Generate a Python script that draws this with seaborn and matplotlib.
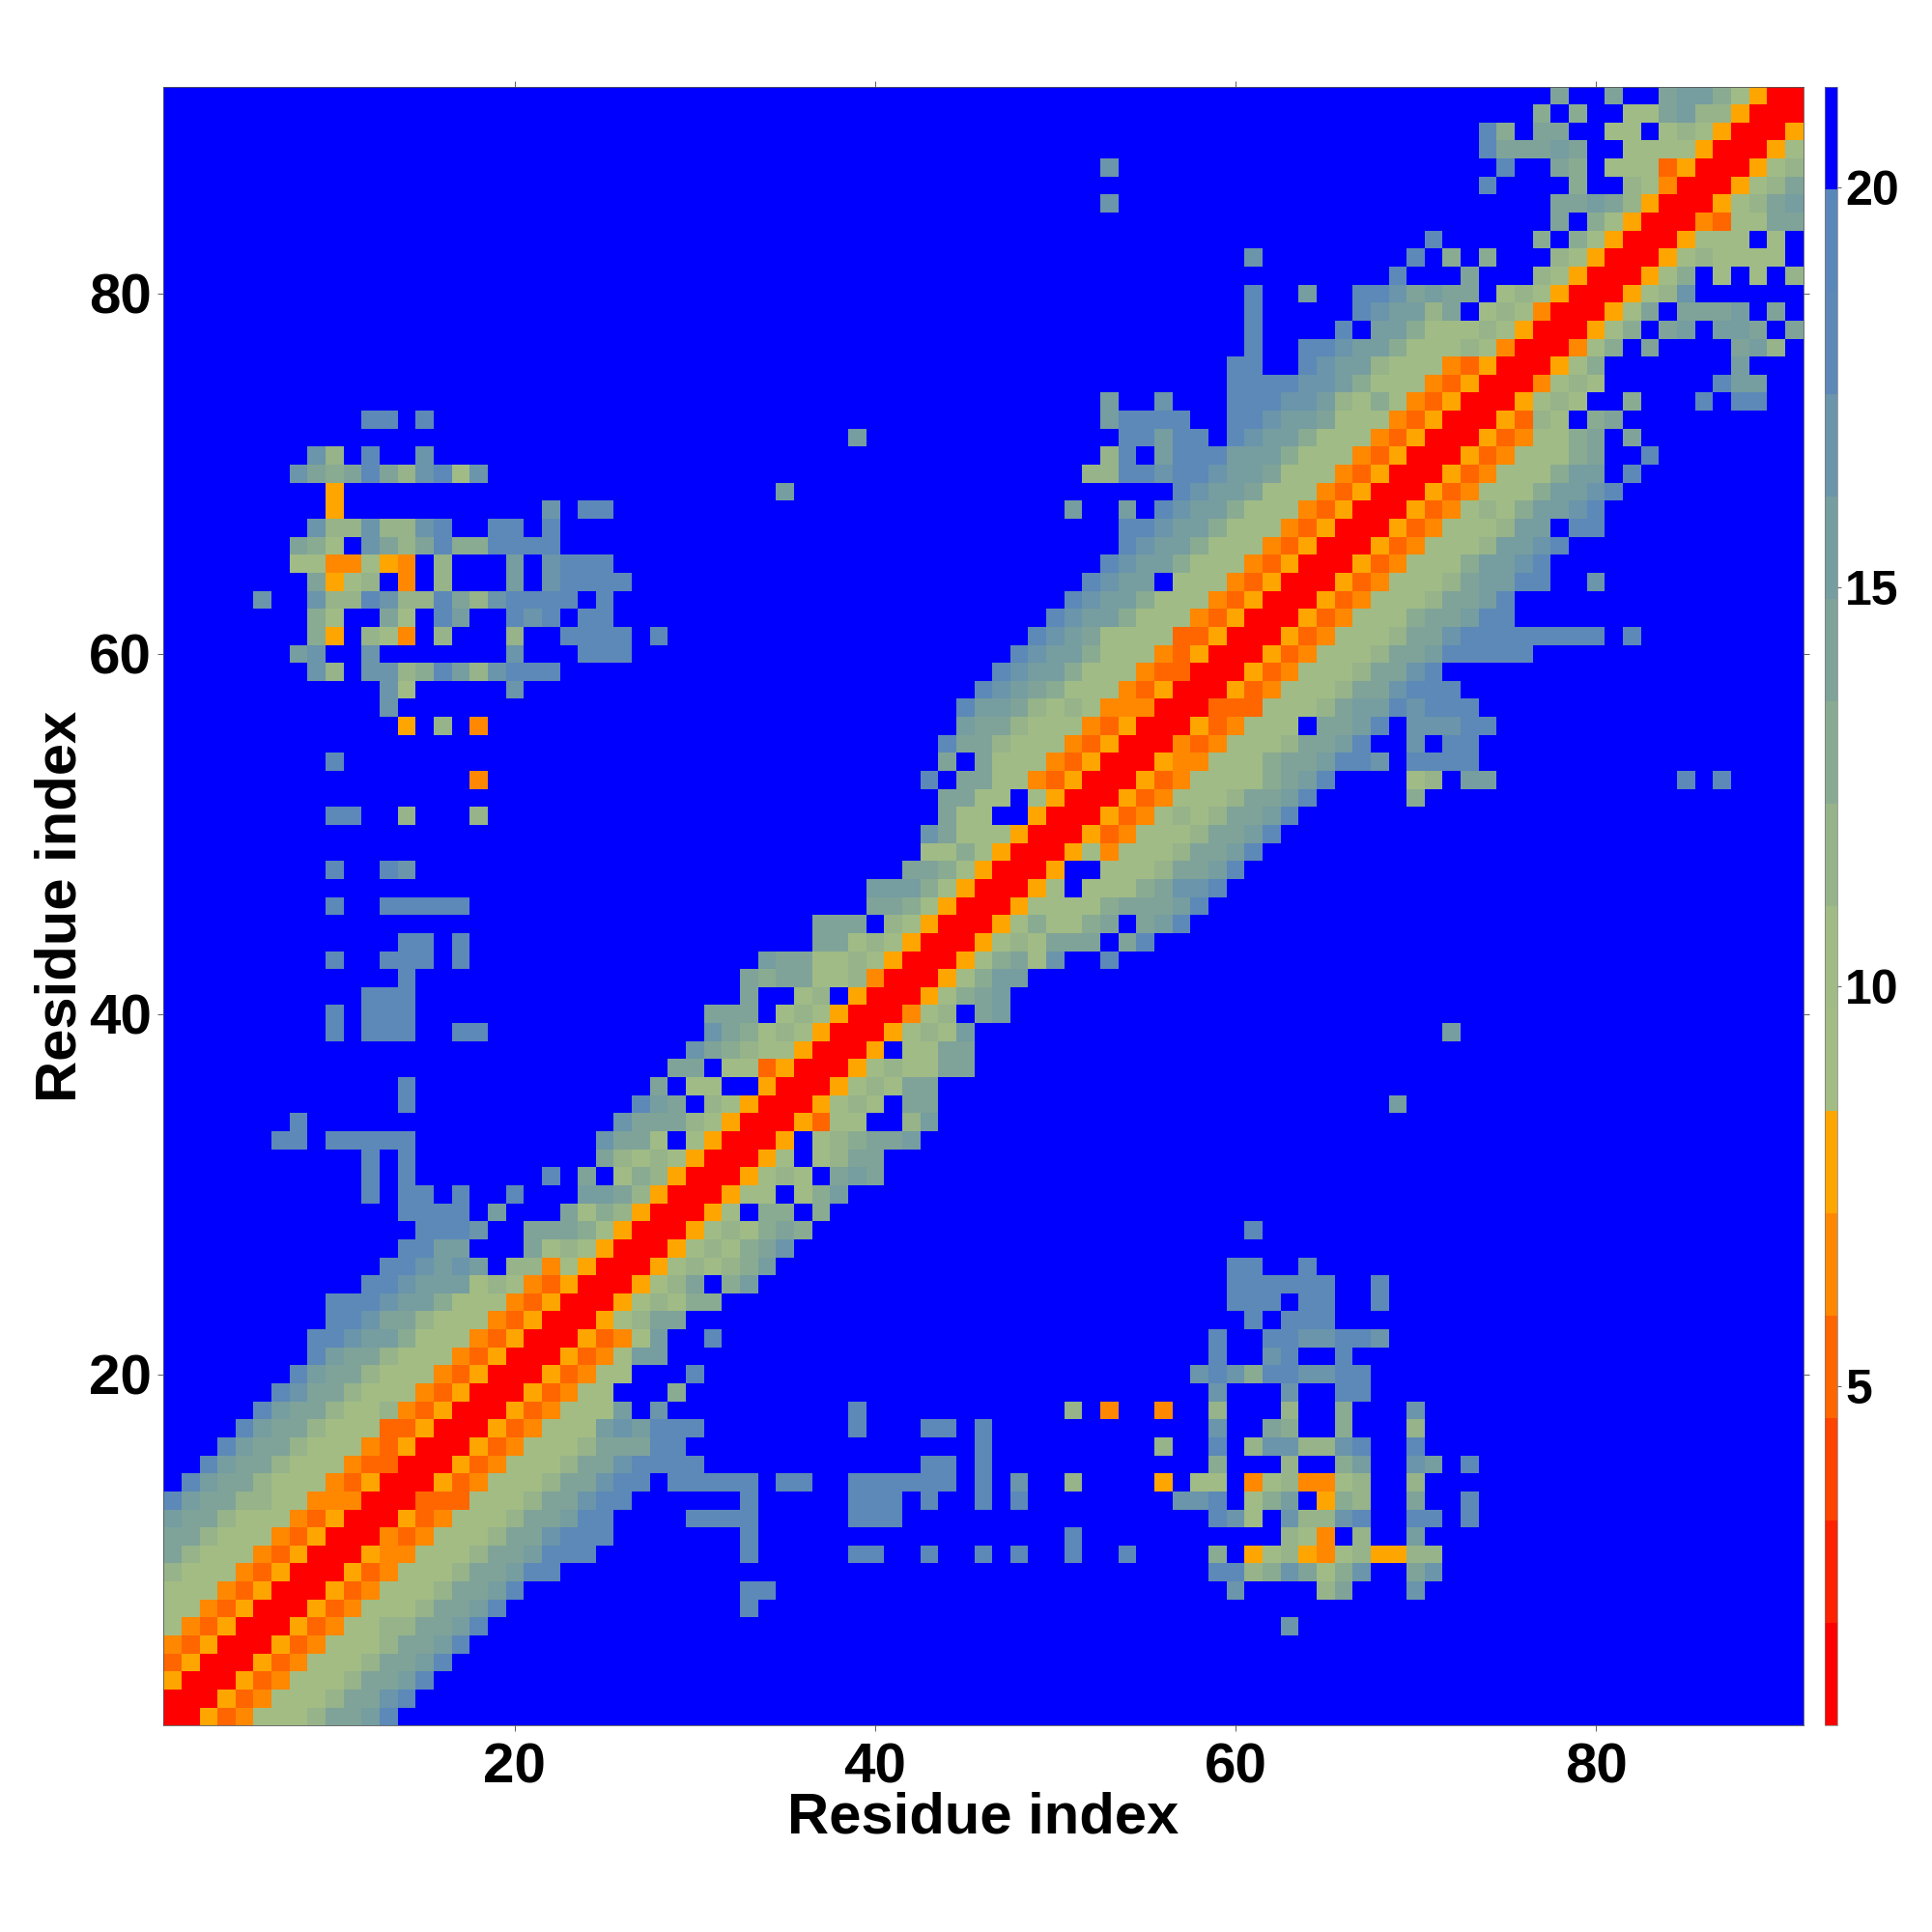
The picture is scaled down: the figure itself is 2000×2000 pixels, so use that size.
# -*- coding: utf-8 -*-
import numpy as np
import pandas as pd
import matplotlib
matplotlib.use("Agg")
import matplotlib.pyplot as plt
from matplotlib.colors import ListedColormap
import seaborn as sns

# each row of the map is written "first column:levels", levels are read off the
# picture as colour bands of the bar (0 = reddest, e = steel blue, . = blue)
rows_01_30 = [
    "1:005346668aabd",
    "1:0005346668aacd",
    "1:50005346668aabd",
    "1:350005346668aabd",
    "1:4350005346668aabd",
    "1:64350005346688aabd 63:c",
    "1:664350005346668aabd 33:d",
    "1:6664350005346668aabd 33:dd 60:c 65:8a 70:c",
    "1:86664350005346668aabdd 59:dd89ca79c..ac",
    "1:a86664350005446668aabddd 33:d 39:dd 43:d 46:d 48:d 51:d 54:d 59:9 61:578547855 70:88",
    "1:aa86664350004346668aacddd 33:d 51:d 63:87 65:4 67:8 70:b",
    "1:baa86664350005346668aabdd 30:dddd 39:ddd 59:dc7.c88cd..dd.d",
    "1:dbaa88664440003336668aacdd 33:d 39:ddd 43:d 46:d 48:d 57:ccd.79b.598..a..d",
    "2:dbaa86664350005346668aacdd.ddddd 35:dd 39:dddddd 46:d 48:c 51:8 56:5 58:77 61:4784478..8",
    "3:dbaa86664330005346668aacdddd 43:dd 46:d 59:9 63:8 66:9b 70:cb 73:d",
    "4:dbaa86664350005346668aaadd 46:d 56:8 59:d 61:8cc88cd 70:d",
    "5:dbaa8666335000534666bcbddd 39:d 43:dd 46:d 59:c 62:a9 66:9 70:8",
    "6:dbaa8668435000534666b.c 39:d 51:8 53:4 56:4 59:8 63:8 66:9 70:c",
    "7:dcaa866643500053466 29:9 59:c 63:c 66:dd",
    "8:dbaa866643500053466 30:d 58:cdc9ddccdd",
    "9:dbaa86664350005346bb 59:d 62:cd 66:d",
    "9:ddcbb96664350005346b..d 59:d 62:ddccddc",
    "10:ddcaa8666435000568aa 61:d.ddd",
    "10:dddcbb9666435000568799 60:ddd.dd 68:d",
    "12:ddcbbb687435000568a.9b 60:dddddd 68:d",
    "13:ddcbcb.88465000578789b 60:dd 64:d",
    "14:ddbb...a787500057879ac",
    "15:dddc..aaa97500057879a9 61:d",
    "14:dddd.b...a798500057.99.9",
    "12:d.dd.d..d...bba85000577.79b",
]
rows_31_60 = [
    "12:d.d 22:d.a.79850005787.aba",
    "12:d.d 25:a8787500057.78aa",
    "7:dd.ddddd 25:caa7.750005.789aab",
    "8:d 26:caaa8750005377..8b",
    "14:d 27:dba.8750005787.aa 69:b",
    "14:d 28:a.77..50005787aa",
    "29:aa.773500057877aa",
    "30:ca987750005.77aa",
    "10:d.ddd..dd 31:ca978750005787b 72:b",
    "10:d.ddd 31:aaa.7875000478.ab",
    "12:ddd 33:a..78.5000579ab",
    "14:d 33:a9aa7784000579bb",
    "10:d..ddd.d 34:baa77875000579a7c..d",
    "14:dd.d 37:aa78750005787aaa.ad",
    "37:aaa.875000579779a.abd",
    "10:d..ddddd 40:aa975000577779aaabd",
    "40:bbb97500057.7779accd",
    "10:d..dc 42:aa9750005..7778aabd",
    "43:779750005747778aabd",
    "43:ca77750005347778aabd",
    "10:dd..8...8 44:a77..50005347878aabd",
    "44:aa77.750005347778aabd 70:9",
    "18:4 43:d.aa7743500053477779abd 70:78.bb 85:d.d",
    "10:d 44:a.a7774350005447779aabddc.dddd",
    "44:daa87774350004347778aabd..c.dd",
    "14:5.8.4 45:baa8777435000534777.aabd.cccdd",
    "13:c 45:dbba87874440003337778abbdcddd",
    "13:c7 20:c 46:dcba97774350005347778aacddd",
    "9:c8.cc89db8cddd 47:dcbb97774330005347778aacd",
    "8:bc..c 20:c 24:ddd 48:dcbb97774350005347778aabddddd",
]
rows_61_91 = [
    "9:95.874.8...8..dddd.d 49:dcba77773350005347778aacdddddddd.d",
    "9:97..a7.db..dcd.dd 50:dcbb97774350005347779aabdd",
    "6:c..c88dc88da8cdddd.d 51:dcbb97774350005347778aabd",
    "9:a578.4.8...b.cdddd 52:dcbb.7774350005347778abbdd..c",
    "8:7744754.8...b.cddd 53:dcbb97774350005347779bbcd",
    "8:a97.ca8ad99dddd 54:dcbb97774350005347778bbcd",
    "9:c88c88cd..dd.d 54:ddcbb97774350005347778bb.dd",
    "10:5 22:c.dd 51:b..b.dcbb97774350005347879bbcd",
    "10:5 35:b 57:dcbba7774350005347779bbcd",
    "8:ca9ada8cd7c 52:88ddcddcbba7774350005347779bb.d",
    "9:c8.d..c 53:8d.bdddbbb97774350005347779a..d",
    "39:b 54:ddbdd.dcbb9777435000534779a.a",
    "12:dd.d 53:bdddd..ddcbba7774350005387.9a",
    "53:b..c 60:dddccb87974350005787 82:9 86:d.dd",
    "60:ddddccb97774350004787 87:dbb",
    "60:dd..dcbb87774350005 79 88:b".replace("5 79", "579"),
    "61:d..ddcbb9777874000479.a 88:ab8",
    "61:d 66:d.bb9777875000579.ab.bba.a",
    "61:d 67:dcbb8a.787400057a.aaab.a",
    "61:d..b..ddcabaa.7875000578c",
    "69:d 73:a 77:875000579.7.7.8",
    "61:c 70:d.9.9 78:8750005787777",
    "71:d 77:9.9750005777.7",
    "78:a.9750004377aa",
    "53:c 78:aaba85000578ab",
    "74:d 79:9 82:874000578a",
    "53:c 75:d 78:a9.77735000578",
    "74:daaaba..7777500057",
    "74:d9.aa..77.78750005",
    "77:9.9..77ab885000",
    "78:a..a..abb97500",
]
residues = list(range(1, 92))
axis_ticks = [20, 40, 60, 80]
bar_ticks = [5, 10, 15, 20]
band_colors = ["#ff0000", "#ff2200", "#ff4400", "#ff6600", "#ff8800", "#ffa500",
               "#a2bc84", "#a0bb85", "#96b38a", "#89ab92", "#7fa399", "#769da0",
               "#6a95aa", "#5c89b8", "#5a87ba", "#0000ff"]
vmin, vmax = 0.76, 21.26


def read_rows(rows):
    step = (vmax - vmin) / len(band_colors)
    out = np.full((len(rows), len(residues)), vmax - step / 2)
    for i, row in enumerate(rows):
        for part in row.split():
            start, levels = part.split(":")
            for j, ch in enumerate(levels):
                if ch != ".":
                    out[i, int(start) - 1 + j] = vmin + step * (int(ch, 16) + .5)
    return out


dist = read_rows(rows_01_30 + rows_31_60 + rows_61_91)
df = pd.DataFrame(dist, index=residues, columns=residues)

sns.set_theme(style="ticks", rc={"text.color": "black", "axes.labelcolor": "black",
                                 "xtick.color": "black", "ytick.color": "black"})
plt.rcParams['font.family'] = ['Liberation Sans', 'DejaVu Sans']
plt.rcParams['font.weight'] = 'bold'

fig = plt.figure(figsize=(20, 20), dpi=100, facecolor='white')
ax = fig.add_axes([169.2/2000, 213.7/2000, 1697.3/2000, 1696.8/2000])
cax = fig.add_axes([1889/2000, 213.7/2000, 13/2000, 1696.8/2000])

sns.heatmap(df, ax=ax, cbar_ax=cax, cmap=ListedColormap(band_colors),
            vmin=vmin, vmax=vmax, square=False, linewidths=0,
            xticklabels=False, yticklabels=False)
ax.set_xlim(0, 91)
ax.set_ylim(0, 91)

# cell i is centred on i - 0.5 in heatmap coordinates
ax.set_xticks([t - .5 for t in axis_ticks])
ax.set_yticks([t - .5 for t in axis_ticks])
ax.set_xticklabels(axis_ticks, fontsize=42, fontweight='bold', rotation=0)
ax.set_yticklabels(axis_ticks, fontsize=42, fontweight='bold', rotation=0)
ax.tick_params(top=True, right=True, bottom=True, left=True, direction='out',
               length=4.5, width=.6, color='#444444', labelcolor='black')
ax.tick_params(axis='x', pad=8)
ax.tick_params(axis='y', pad=4.5)
ax.set_xlabel("Residue index", fontsize=43, fontweight='bold', labelpad=-2, color='black')
ax.set_ylabel("Residue index", fontsize=43, fontweight='bold', labelpad=1, color='black')
for side in ax.spines.values():
    side.set_visible(True)
    side.set_linewidth(.6)
    side.set_color('#555555')

cbar = ax.collections[0].colorbar
cbar.set_ticks(bar_ticks)
cbar.set_ticklabels(bar_ticks, fontsize=36, fontweight='bold', color='black')
cax.tick_params(length=3, width=.6, color='#444444', pad=3)
cbar.outline.set_visible(True)
cbar.outline.set_linewidth(.5)
cbar.outline.set_edgecolor('#777777')

fig.savefig("out.png", dpi=100, facecolor='white')
